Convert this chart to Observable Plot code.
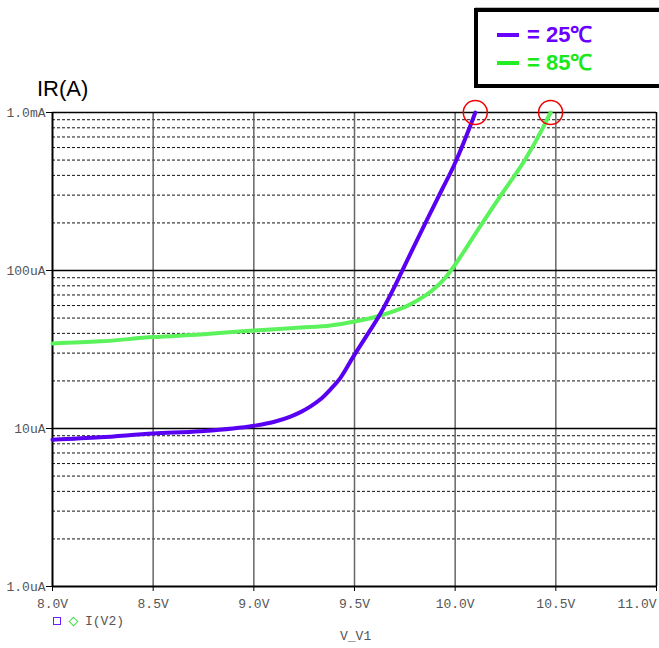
<!DOCTYPE html>
<html><head><meta charset="utf-8">
<script src="https://cdn.jsdelivr.net/npm/d3@7"></script>
<script src="https://cdn.jsdelivr.net/npm/@observablehq/plot@0.6"></script>
<style>
body{margin:0;background:#fff;}
#wrap{position:relative;width:659px;height:648px;overflow:hidden;background:#fff;}
#wrap svg{position:absolute;left:0;top:0;}
.ov{position:absolute;line-height:1;white-space:nowrap;transform:translateY(-50%);}
.mono{font-family:"Liberation Mono","DejaVu Sans Mono",monospace;font-size:13px;color:#555;}
#ylab{left:37px;top:89px;font-family:"Liberation Sans",Arial,sans-serif;font-size:22px;color:#000;}
#legbox{position:absolute;left:474px;top:8px;width:200px;height:72px;border:4px solid #000;box-shadow:1px -1px 0 #bbb;background:#fff;}
.legline{position:absolute;height:4px;width:22px;left:497px;}
.legtxt{font-family:"Liberation Sans",Arial,sans-serif;font-weight:bold;font-size:22px;left:527px;}
</style></head><body>
<div id="wrap"></div>
<script>
// 25°C series (purple)
const volts25 = [8.0, 8.238, 8.5, 8.735, 9.0, 9.098, 9.182, 9.232, 9.282, 9.331, 9.381, 9.431, 9.495, 9.555, 9.629, 9.704, 9.754, 9.853, 9.936, 9.994, 10.068, 10.1];
const amps25  = [8.5e-6, 8.8e-6, 9.3e-6, 9.6e-6, 1.04e-5, 1.10e-5, 1.19e-5, 1.27e-5, 1.38e-5, 1.53e-5, 1.77e-5, 2.10e-5, 2.86e-5, 3.77e-5, 5.35e-5, 8.15e-5, 1.107e-4, 2.01e-4, 3.28e-4, 4.62e-4, 7.80e-4, 1.0e-3];
// 85°C series (green)
const volts85 = [8.0, 8.238, 8.5, 8.735, 9.0, 9.232, 9.381, 9.5, 9.629, 9.704, 9.754, 9.803, 9.853, 9.903, 9.952, 9.997, 10.052, 10.101, 10.226, 10.35, 10.433, 10.474];
const amps85  = [3.45e-5, 3.56e-5, 3.79e-5, 3.94e-5, 4.17e-5, 4.35e-5, 4.48e-5, 4.75e-5, 5.19e-5, 5.58e-5, 5.91e-5, 6.37e-5, 6.95e-5, 7.80e-5, 9.03e-5, 1.076e-4, 1.371e-4, 1.714e-4, 2.98e-4, 5.09e-4, 7.88e-4, 1.0e-3];

const xTickValues = [8.0, 8.5, 9.0, 9.5, 10.0, 10.5, 11.0];
const xTickLabels = ["8.0V", "8.5V", "9.0V", "9.5V", "10.0V", "10.5V", "11.0V"];
const yTickValues = [1e-6, 1e-5, 1e-4, 1e-3];
const yTickLabels = ["1.0uA", "10uA", "100uA", "1.0mA"];
const minorMultipliers = [2, 3, 4, 5, 6, 7, 8, 9];
const seriesNames = ["25℃", "85℃"];
const seriesColors = ["#5a00f2", "#5cf25c"];
const legendLineColors = ["#6a00ff", "#22ee22"];
const legendTextColors = ["#6a00ff", "#1be81b"];

const s25 = volts25.map((v, i) => ({v, a: amps25[i]}));
const s85 = volts85.map((v, i) => ({v, a: amps85[i]}));
const minor = yTickValues.slice(0, 3).flatMap(d => minorMultipliers.map(m => m * d));
const ends = [s25[s25.length - 1], s85[s85.length - 1]];
const xLabel = d => xTickLabels[xTickValues.indexOf(d)];

const chart = Plot.plot({
  width: 659, height: 648,
  marginTop: 112, marginBottom: 62, marginLeft: 52, marginRight: 3,
  style: {background: "transparent", fontFamily: "Liberation Mono, DejaVu Sans Mono, monospace", fontSize: "13px", color: "#555"},
  x: {domain: [8, 11]},
  y: {type: "log", domain: [1e-6, 1e-3]},
  marks: [
    Plot.ruleY(minor, {stroke: "#111", strokeWidth: 1, strokeDasharray: "3,2"}),
    Plot.ruleX(xTickValues.slice(1, -1), {stroke: "#666", strokeWidth: 1.5}),
    Plot.ruleY(yTickValues.slice(1), {stroke: "#000", strokeWidth: 1.5}),
    Plot.ruleX(xTickValues.slice(-1), {stroke: "#000", strokeWidth: 1.5}),
    Plot.ruleX(xTickValues.slice(0, 1), {stroke: "#000", strokeWidth: 2}),
    Plot.ruleY(yTickValues.slice(0, 1), {stroke: "#000", strokeWidth: 2}),
    Plot.axisX(xTickValues.slice(0, -1), {tickFormat: xLabel, tickSize: 5, tickPadding: 7, stroke: "#000", fill: "#555", label: null}),
    Plot.axisX(xTickValues.slice(-1), {tickFormat: xLabel, tickSize: 5, tickPadding: 7, textAnchor: "end", stroke: "#000", fill: "#555", label: null}),
    Plot.axisY({ticks: yTickValues, tickFormat: d => yTickLabels[yTickValues.indexOf(d)], tickSize: 6, tickPadding: 1, stroke: "#000", fill: "#555", label: null}),
    Plot.line(s85, {x: "v", y: "a", stroke: seriesColors[1], strokeWidth: 4, curve: "monotone-x"}),
    Plot.line(s25, {x: "v", y: "a", stroke: seriesColors[0], strokeWidth: 4, curve: "monotone-x"}),
    Plot.dot(ends, {x: "v", y: "a", r: 12, stroke: "#e00", strokeWidth: 1.5, fill: "none"})
  ]
});

const wrap = document.getElementById("wrap");
wrap.appendChild(chart);

function addDiv(text, cls, id, style) {
  const d = document.createElement("div");
  if (cls) d.className = cls;
  if (id) d.id = id;
  if (text != null) d.textContent = text;
  if (style) Object.assign(d.style, style);
  wrap.appendChild(d);
  return d;
}
addDiv("IR(A)", "ov", "ylab");
addDiv(null, null, "legbox");
seriesNames.forEach((n, i) => {
  const y = 35 + i * 28;
  addDiv(null, "legline", null, {top: (y - 2) + "px", background: legendLineColors[i]});
  addDiv("= " + n, "ov legtxt", null, {top: y + "px", color: legendTextColors[i]});
});
// bottom legend
addDiv(null, null, null, {position: "absolute", left: "53px", top: "617px", width: "6px", height: "6px", border: "1.3px solid #6a20ff"});
addDiv(null, null, null, {position: "absolute", left: "70px", top: "618px", width: "5px", height: "5px", border: "1.3px solid #44e044", transform: "rotate(45deg)"});
addDiv("I(V2)", "ov mono", null, {left: "85px", top: "621px"});
addDiv("V_V1", "ov mono", null, {left: "340px", top: "636px"});
</script>
</body></html>
